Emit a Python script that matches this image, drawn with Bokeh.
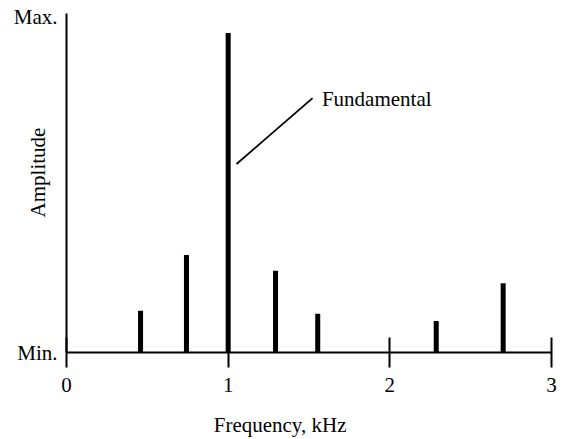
from bokeh.plotting import figure
from bokeh.models import FixedTicker, Range1d, Label, ColumnDataSource
from bokeh.embed import file_html
from bokeh.resources import INLINE

# Data
freqs = [0.458, 0.742, 1.0, 1.293, 1.554, 2.287, 2.701]      # kHz
amps = [0.124, 0.290, 0.951, 0.243, 0.115, 0.094, 0.206]     # relative (Min=0, Max=1)

x_ticks = [0, 1, 2, 3]
y_ticks = [0, 1]
y_tick_labels = {0: "Min.", 1: "Max."}

# Leader line for the "Fundamental" note
leader_x = [1.052, 1.522]
leader_y = [0.561, 0.757]
note_text = "Fundamental"
note_pos = (1.580, 0.755)

x_title = "Frequency, kHz"
y_title = "Amplitude"

FONT = "Liberation Serif"
FS = "21px"
NBSP = "\u00a0"

p = figure(width=560, height=439, output_backend="svg", toolbar_location=None,
           min_border_left=66, min_border_right=9, min_border_top=13, min_border_bottom=87,
           x_range=Range1d(0, 3), y_range=Range1d(0, 1.009))

p.outline_line_color = None
p.xgrid.visible = False
p.ygrid.visible = False
p.background_fill_color = "white"
p.border_fill_color = "white"

src = ColumnDataSource(dict(x=freqs, top=amps))
p.vbar(x="x", top="top", bottom=0, width=0.031, source=src,
       fill_color="black", line_color=None)

p.line(leader_x, leader_y, line_color="black", line_width=1.8)

# X axis
xa = p.xaxis[0]
xa.ticker = FixedTicker(ticks=x_ticks)
xa.minor_tick_line_color = None
xa.major_tick_in = 15
xa.major_tick_out = 15
xa.major_tick_line_width = 2
xa.major_tick_line_color = "black"
xa.axis_line_width = 2
xa.axis_line_color = "black"
xa.major_label_text_font = FONT
xa.major_label_text_font_size = FS
xa.major_label_text_color = "black"
xa.major_label_standoff = 10
xa.axis_label = x_title + NBSP * 11
xa.axis_label_text_font = FONT
xa.axis_label_text_font_size = FS
xa.axis_label_text_font_style = "normal"
xa.axis_label_text_color = "black"
xa.axis_label_standoff = 18

# Y axis
ya = p.yaxis[0]
ya.ticker = FixedTicker(ticks=y_ticks)
ya.major_label_overrides = y_tick_labels
ya.minor_tick_line_color = None
ya.major_tick_in = 0
ya.major_tick_out = 0
ya.axis_line_width = 2
ya.axis_line_color = "black"
ya.major_label_text_font = FONT
ya.major_label_text_font_size = FS
ya.major_label_text_color = "black"
ya.major_label_standoff = 9
ya.axis_label = NBSP * 4 + y_title
ya.axis_label_text_font = FONT
ya.axis_label_text_font_size = FS
ya.axis_label_text_font_style = "normal"
ya.axis_label_text_color = "black"
ya.axis_label_standoff = -39

# Note
p.add_layout(Label(x=note_pos[0], y=note_pos[1], text=note_text,
                   text_font=FONT, text_font_size=FS, text_color="black",
                   text_align="left", text_baseline="alphabetic"))

open("out.html", "w").write(file_html(p, INLINE))
